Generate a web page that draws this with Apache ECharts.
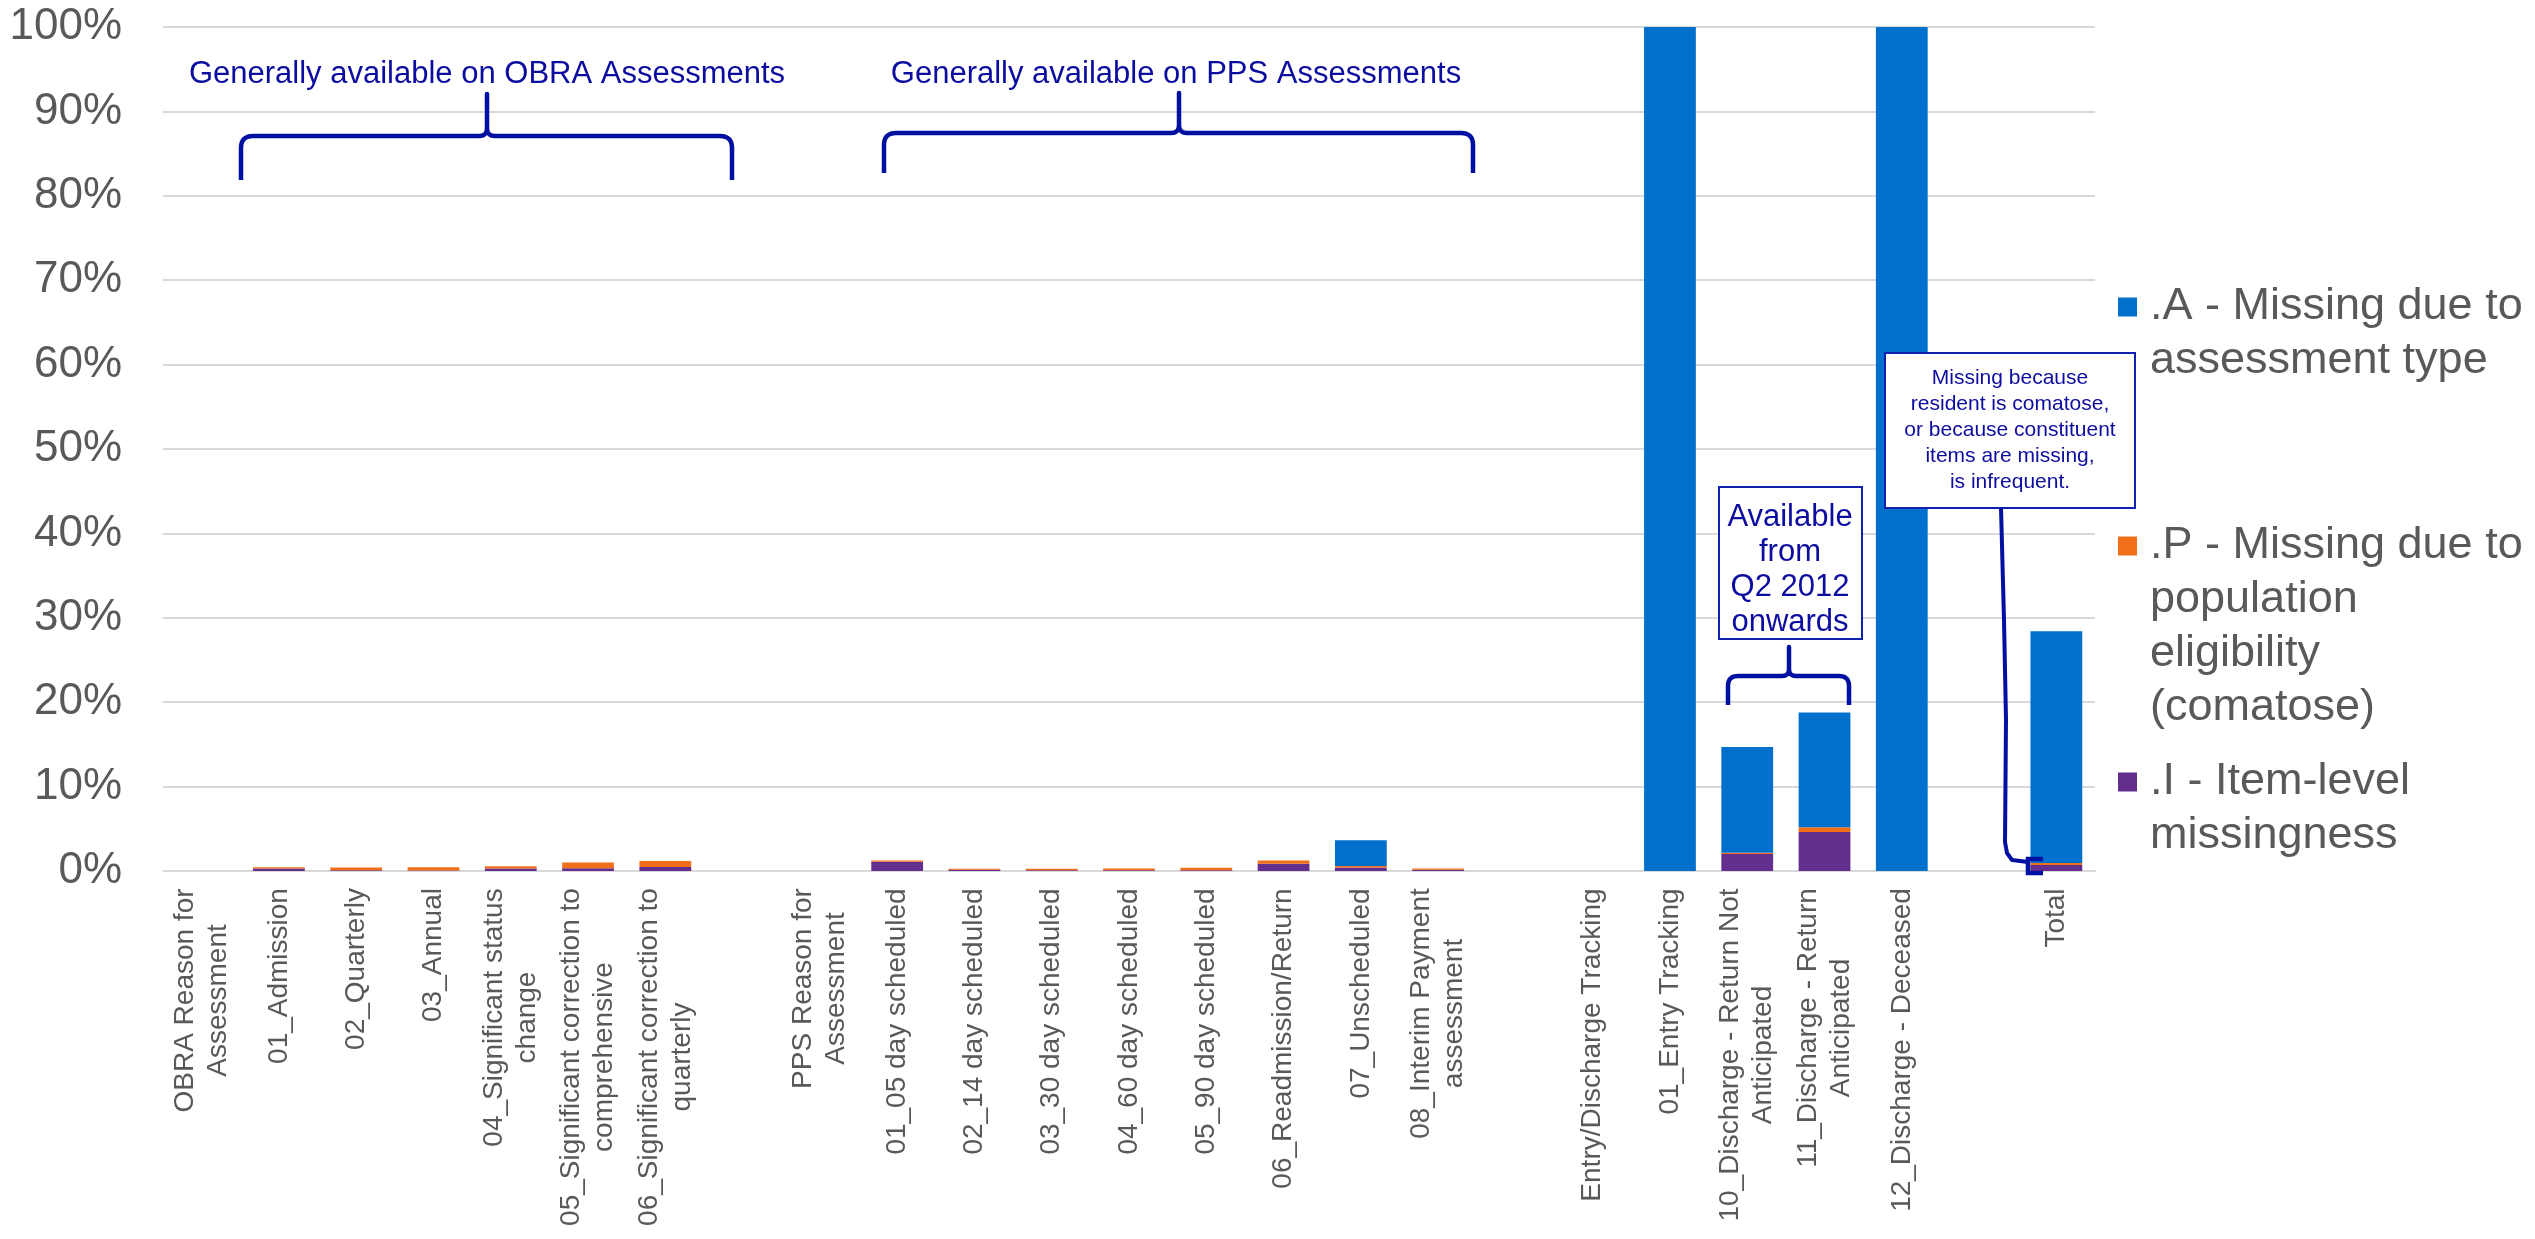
<!DOCTYPE html>
<html>
<head>
<meta charset="utf-8">
<script src="https://cdn.jsdelivr.net/npm/echarts@6/dist/echarts.min.js"></script>
<style>
html,body{margin:0;padding:0;background:#fff;}
#chart{width:2535px;height:1239px;}
</style>
</head>
<body>
<div id="chart"></div>
<script>
// ---- Data ----
const categories = [
  "OBRA Reason for\nAssessment", "01_Admission", "02_Quarterly", "03_Annual",
  "04_Significant status\nchange", "05_Significant correction to\ncomprehensive",
  "06_Significant correction to\nquarterly", " ",
  "PPS Reason for\nAssessment", "01_05 day scheduled", "02_14 day scheduled",
  "03_30 day scheduled", "04_60 day scheduled", "05_90 day scheduled",
  "06_Readmission/Return", "07_Unscheduled", "08_Interim Payment\nassessment", "  ",
  "Entry/Discharge Tracking", "01_Entry Tracking", "10_Discharge - Return Not\nAnticipated",
  "11_Discharge - Return\nAnticipated", "12_Discharge - Deceased", "   ", "Total"
];
const seriesNames = [
  ".A - Missing due to assessment type",
  ".P - Missing due to population eligibility (comatose)",
  ".I - Item-level missingness"
];
const legendLabels = [
  ".A - Missing due to\nassessment type",
  ".P - Missing due to\npopulation\neligibility\n(comatose)",
  ".I - Item-level\nmissingness"
];
// values in percent
const itemLevel = [null,0.30,0.10,0.05,0.30,0.32,0.47,null,null,1.10,0.15,0.10,0.10,0.10,0.87,0.40,0.15,null,null,null,2.00,4.63,null,null,0.71];
const population = [null,0.15,0.30,0.40,0.25,0.68,0.72,null,null,0.15,0.13,0.18,0.20,0.28,0.38,0.20,0.15,null,null,null,0.15,0.55,null,null,0.25];
const assessmentType = [null,null,null,null,null,null,null,null,null,null,null,null,null,null,null,3.04,null,null,null,100,12.55,13.60,100,null,27.45];
const yTicks = [0,10,20,30,40,50,60,70,80,90,100];

// ---- Styles ----
const FONT = '"Liberation Sans", Arial, sans-serif';
const GRAY = '#595959';
const NAVY = '#0C0CA0';
const colors = { A: '#0070CC', P: '#F26F19', I: '#632E8D' };

// centred lines inside rotated category labels
const ctx = document.createElement('canvas').getContext('2d');
ctx.font = '28px "Liberation Sans"';
const rich = {};
categories.forEach((c, i) => {
  const w = Math.max(...c.split('\n').map(l => ctx.measureText(l).width));
  rich['c' + i] = { width: Math.ceil(w) + 2, align: 'center', fontSize: 28, fontFamily: FONT, color: GRAY, lineHeight: 33 };
});

function quad(a, b, c, n) {
  const pts = [];
  for (let k = 1; k <= n; k++) {
    const t = k / n, u = 1 - t;
    pts.push([u*u*a[0] + 2*u*t*b[0] + t*t*c[0], u*u*a[1] + 2*u*t*b[1] + t*t*c[1]]);
  }
  return pts;
}
function brace(x0, x1, xm, yEnd, yBar, yTip, r, rm) {
  let p = [[x0, yEnd], [x0, yBar + r]];
  p = p.concat(quad([x0, yBar + r], [x0, yBar], [x0 + r, yBar], 8));
  p.push([xm - rm, yBar]);
  p = p.concat(quad([xm - rm, yBar], [xm, yBar], [xm, yBar - rm], 6));
  p.push([xm, yTip]);
  p.push([xm, yBar - rm]);
  p = p.concat(quad([xm, yBar - rm], [xm, yBar], [xm + rm, yBar], 6));
  p.push([x1 - r, yBar]);
  p = p.concat(quad([x1 - r, yBar], [x1, yBar], [x1, yBar + r], 8));
  p.push([x1, yEnd]);
  return p;
}
function braceEl(pts) {
  return { type: 'polyline', z: 100, shape: { points: pts }, style: { stroke: '#0010A0', lineWidth: 4.5, fill: 'none', lineJoin: 'round' } };
}
function textEl(x, y, text, size, lh) {
  return { type: 'text', z: 101, x: x, y: y, style: { text: text, fill: NAVY, font: size + 'px ' + FONT, align: 'center', verticalAlign: 'middle', lineHeight: lh } };
}
function boxEl(x, y, w, h) {
  return { type: 'rect', z: 100, shape: { x: x, y: y, width: w, height: h }, style: { fill: '#fff', stroke: '#1020B0', lineWidth: 2 } };
}

const chart = echarts.init(document.getElementById('chart'));

function legendFor(i, top, lines) {
  return {
    data: [seriesNames[i]], orient: 'vertical', left: 2118, top: top, padding: 0,
    itemWidth: 19, itemHeight: 19, icon: 'rect', selectedMode: false,
    formatter: () => '\n'.repeat(lines - 1) + legendLabels[i],
    textStyle: { fontSize: 45, fontFamily: FONT, color: GRAY, lineHeight: 54, padding: [0, 0, 0, 8] }
  };
}

const option = {
  animation: false,
  backgroundColor: '#fff',
  grid: { left: 163, right: 440, top: 27, bottom: 368, containLabel: false },
  legend: [ legendFor(0, 226, 2), legendFor(1, 357, 4), legendFor(2, 701, 2) ],
  xAxis: {
    type: 'category', data: categories,
    axisLine: { lineStyle: { color: '#D9D9D9', width: 2 } },
    axisTick: { show: false },
    axisLabel: {
      interval: 0, rotate: 90, margin: 16,
      formatter: (v, idx) => v.split('\n').map(l => '{c' + idx + '|' + l + '}').join('\n'),
      rich: rich
    }
  },
  yAxis: {
    type: 'value', min: yTicks[0], max: yTicks[yTicks.length - 1], interval: 10,
    axisLine: { show: false }, axisTick: { show: false },
    splitLine: { lineStyle: { color: '#D9D9D9', width: 2 } },
    axisLabel: { formatter: '{value}%', fontSize: 44, fontFamily: FONT, color: GRAY, margin: 41 }
  },
  series: [
    { name: seriesNames[2], type: 'bar', stack: 's', data: itemLevel, barWidth: '67%', itemStyle: { color: colors.I } },
    { name: seriesNames[1], type: 'bar', stack: 's', data: population, barWidth: '67%', itemStyle: { color: colors.P } },
    { name: seriesNames[0], type: 'bar', stack: 's', data: assessmentType, barWidth: '67%', itemStyle: { color: colors.A } }
  ],
  graphic: [
    braceEl(brace(241, 732, 487, 180, 136, 94, 12, 8)),
    textEl(487, 74, 'Generally available on OBRA Assessments', 31, 36),
    braceEl(brace(884, 1473, 1179, 173, 133, 93, 12, 8)),
    textEl(1176, 74, 'Generally available on PPS Assessments', 31, 36),
    boxEl(1719, 487, 143, 152),
    textEl(1790, 570, 'Available\nfrom\nQ2 2012\nonwards', 31, 35.3),
    braceEl(brace(1728, 1849, 1789, 705, 676, 647, 10, 7)),
    boxEl(1885, 353, 250, 155),
    textEl(2010, 430, 'Missing because\nresident is comatose,\nor because constituent\nitems are missing,\nis infrequent.', 21, 26),
    { type: 'polyline', z: 100, shape: { points: [[2001,508],[2004,620],[2006,720],[2005,842],[2007,853],[2012,860],[2028,862]] }, style: { stroke: '#0010A0', lineWidth: 4, fill: 'none', lineJoin: 'round' } },
    { type: 'polyline', z: 100, shape: { points: [[2043,859],[2028,859],[2028,873],[2043,873]] }, style: { stroke: '#0010A0', lineWidth: 4.5, fill: 'none' } }
  ]
};
chart.setOption(option);
</script>
</body>
</html>
